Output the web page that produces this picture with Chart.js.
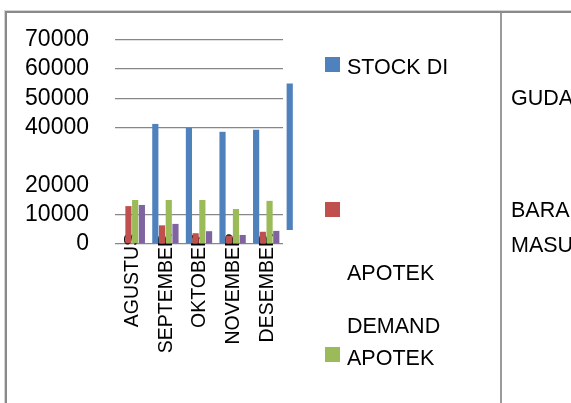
<!DOCTYPE html>
<html>
<head>
<meta charset="utf-8">
<script src="https://cdn.jsdelivr.net/npm/chart.js@4"></script>
<style>
  html, body { margin: 0; padding: 0; background: #fff; }
  body { width: 571px; height: 403px; position: relative; overflow: hidden; font-family: "Liberation Sans", Arial, sans-serif; }
  canvas { position: absolute; left: 0; top: 0; }
  .line { position: absolute; }
  .sq { position: absolute; width: 15px; height: 15px; }
  .txt { position: absolute; font-size: 21.5px; line-height: 22px; color: #000; white-space: nowrap; }
</style>
</head>
<body>
<!-- frame lines -->
<div class="line" style="left:4px;top:10px;width:567px;height:1px;background:#d4d4d4"></div>
<div class="line" style="left:4px;top:11px;width:567px;height:2px;background:#8a8a8a"></div>
<div class="line" style="left:4px;top:10px;width:1px;height:393px;background:#d4d4d4"></div>
<div class="line" style="left:5px;top:11px;width:2px;height:392px;background:#8a8a8a"></div>
<div class="line" style="left:500px;top:13px;width:2px;height:390px;background:#9a9a9a"></div>

<canvas id="barChart" width="571" height="403"></canvas>

<!-- legend (broken layout as in the original) -->
<div class="sq" style="left:325px;top:57px;background:#4F81BD"></div>
<div class="txt" style="left:347px;top:56px">STOCK DI</div>
<div class="txt" style="left:511px;top:87px">GUDANG</div>
<div class="sq" style="left:325px;top:202px;background:#C0504D"></div>
<div class="txt" style="left:511px;top:199px">BARANG</div>
<div class="txt" style="left:511px;top:234px">MASUK</div>
<div class="txt" style="left:347px;top:262px">APOTEK</div>
<div class="txt" style="left:347px;top:315px">DEMAND</div>
<div class="sq" style="left:325px;top:347px;background:#9BBB59"></div>
<div class="txt" style="left:347px;top:347px">APOTEK</div>

<script>
// data
const months = ['AGUSTUS', 'SEPTEMBER', 'OKTOBER', 'NOVEMBER', 'DESEMBER', ''];
const stockGudang = [null, 41200, 39900, 38500, 39200, [4800, 55100]];
const barangMasuk = [13000, 6400, 3700, 2900, 4200];
const demandApotek = [15100, 15100, 15100, 12000, 14800];
const stockApotek = [13400, 6900, 4400, 3100, 4500];
const yTickLabels = [0, 10000, 20000, 40000, 50000, 60000, 70000];
const gridValues = [0, 10000, 40000, 50000, 60000, 70000];

const fontFamily = '"Liberation Sans", Arial, sans-serif';

function createBarChart() {
    var ctx = document.getElementById('barChart').getContext('2d');
    new Chart(ctx, {
        type: 'bar',
        data: {
            labels: months,
            datasets: [
                { label: 'STOCK DI GUDANG', data: stockGudang, backgroundColor: '#4F81BD', clip: false },
                { label: 'BARANG MASUK APOTEK', data: barangMasuk, backgroundColor: '#C0504D' },
                { label: 'DEMAND APOTEK', data: demandApotek, backgroundColor: '#9BBB59' },
                { label: 'STOCK DI APOTEK', data: stockApotek, backgroundColor: '#8064A2' }
            ]
        },
        options: {
            responsive: false,
            animation: false,
            categoryPercentage: 0.8,
            barPercentage: 0.92,
            layout: { padding: { left: 0, top: 40, right: 288, bottom: 0 } },
            plugins: { legend: { display: false }, tooltip: { enabled: false } },
            scales: {
                x: {
                    max: 'DESEMBER',
                    z: 1,
                    grid: { display: false, drawTicks: false },
                    border: { display: false },
                    ticks: {
                        color: '#000',
                        font: { size: 19.5, family: fontFamily, lineHeight: '24px' },
                        minRotation: 90,
                        maxRotation: 90,
                        autoSkip: false,
                        // mirrored so the label ends can sit above the axis, then moved back onto the category
                        mirror: true,
                        padding: 11,
                        labelOffset: 25
                    },
                    afterFit: function (s) { s.height = 159; }
                },
                y: {
                    min: 0,
                    max: 70000,
                    grid: {
                        drawTicks: false,
                        lineWidth: 1.3,
                        color: function (c) {
                            return gridValues.includes(c.tick.value) ? '#878787' : 'rgba(0,0,0,0)';
                        }
                    },
                    border: { display: false },
                    ticks: {
                        stepSize: 10000,
                        autoSkip: false,
                        color: '#000',
                        padding: 26,
                        font: { size: 23, family: fontFamily },
                        callback: function (v) { return yTickLabels.includes(v) ? String(v) : ''; }
                    },
                    afterFit: function (s) { s.width = 115; }
                }
            }
        }
    });
}

window.onload = createBarChart;
</script>
</body>
</html>
